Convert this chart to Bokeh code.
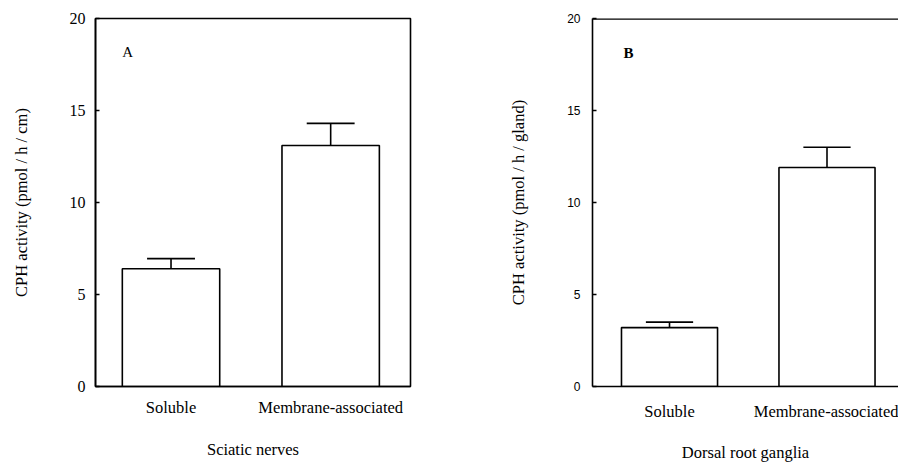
from bokeh.plotting import figure
from bokeh.layouts import row
from bokeh.models import FixedTicker, Label, Span, ColumnDataSource
from bokeh.embed import file_html
from bokeh.resources import INLINE

categories = ["Soluble", "Membrane-associated"]
a_values = [6.4, 13.1]
a_errors = [0.55, 1.2]
b_values = [3.2, 11.9]
b_errors = [0.3, 1.1]
y_ticks = [0, 5, 10, 15, 20]

SERIF = "Liberation Serif"
SANS = "Liberation Sans"


def make_panel(values, errors, width, left, right, top, bottom, xr, ylabel, xlabel,
               panel_label, label_pos, tick_font, tick_size, tick_standoff,
               ylabel_standoff, xtick_standoff, xlabel_standoff, outline, label_bold):
    p = figure(width=width, height=464, x_range=xr, y_range=(0, 20),
               output_backend="svg", toolbar_location=None,
               min_border_left=left, min_border_right=right,
               min_border_top=top, min_border_bottom=bottom)
    p.grid.visible = False
    xs = list(range(1, len(values) + 1))
    src = ColumnDataSource(dict(x=xs, top=values, err=[v + e for v, e in zip(values, errors)],
                                cl=[x - 0.15 for x in xs], cr=[x + 0.15 for x in xs]))
    p.vbar(x="x", top="top", bottom=0, width=0.61, source=src,
           fill_color="white", line_color="black", line_width=1.6)
    p.segment(x0="x", y0="top", x1="x", y1="err", source=src, line_color="black", line_width=1.6)
    p.segment(x0="cl", y0="err", x1="cr", y1="err", source=src, line_color="black", line_width=1.6)

    ya = p.yaxis[0]
    ya.ticker = FixedTicker(ticks=y_ticks)
    ya.minor_tick_line_color = None
    ya.major_tick_in = 4
    ya.major_tick_out = 0
    ya.major_label_text_font = tick_font
    ya.major_label_text_font_size = tick_size
    ya.major_label_text_color = "black"
    ya.major_label_standoff = tick_standoff
    ya.axis_label = ylabel
    ya.axis_label_text_font = SERIF
    ya.axis_label_text_font_style = "normal"
    ya.axis_label_text_font_size = "16.5px"
    ya.axis_label_text_color = "black"
    ya.axis_label_standoff = ylabel_standoff
    ya.axis_line_width = 1.6
    ya.major_tick_line_width = 1.5

    xa = p.xaxis[0]
    xa.ticker = FixedTicker(ticks=xs)
    xa.major_label_overrides = {x: c for x, c in zip(xs, categories)}
    xa.major_tick_line_color = None
    xa.minor_tick_line_color = None
    xa.major_label_text_font = SERIF
    xa.major_label_text_font_size = "16.5px"
    xa.major_label_text_color = "black"
    xa.major_label_standoff = xtick_standoff
    xa.axis_label = xlabel
    xa.axis_label_text_font = SERIF
    xa.axis_label_text_font_style = "normal"
    xa.axis_label_text_font_size = "16.5px"
    xa.axis_label_text_color = "black"
    xa.axis_label_standoff = xlabel_standoff
    xa.axis_line_width = 1.6

    if outline:
        p.outline_line_color = "black"
        p.outline_line_width = 1.6
        p.outline_line_alpha = 1.0
    else:
        p.outline_line_alpha = 0
        p.add_layout(Span(location=20, dimension="width", line_color="black", line_width=2.6))

    p.add_layout(Label(x=label_pos[0], y=label_pos[1], text=panel_label,
                       text_font=SERIF, text_font_size="15px", text_color="black",
                       text_font_style="bold" if label_bold else "normal",
                       text_align="center", text_baseline="middle"))
    return p


pa = make_panel(a_values, a_errors, 450, 95, 40, 18, 78, (0.527, 2.5),
                "CPH activity (pmol / h / cm)", "Sciatic nerves", "A", (0.728, 18.2),
                SERIF, "16px", 10, 36, 5, 20, True, False)
pb = make_panel(b_values, b_errors, 448, 142, 0, 18, 78, (0.511, 2.454),
                "CPH activity (pmol / h / gland)", "Dorsal root ganglia", "B", (0.74, 18.15),
                SANS, "12px", 12, 36, 9, 19, False, True)

layout = row(pa, pb)
open("out.html", "w").write(file_html(layout, INLINE))
